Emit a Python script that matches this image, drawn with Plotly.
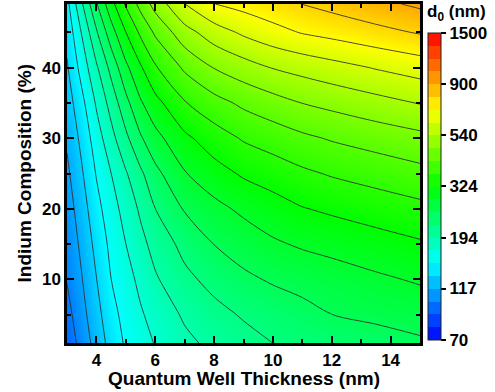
import math
import plotly.graph_objects as go

# ---------------- data ----------------
thickness_nm = [3, 3.5, 4, 4.5, 5, 5.5, 6, 7, 8, 9, 10, 11, 12, 13.5, 15]
indium_pct = [1, 5, 10, 15, 20, 25, 30, 35, 40, 45, 49]

# d0 (nm) along thickness for each indium composition row
d0_in01 = [95.1, 107.3, 123.0, 138.9, 153.4, 162.9, 172.3, 188.7, 200.8, 210.8, 221.0, 225.9, 230.8, 238.3, 246.3]
d0_in05 = [98.2, 111.7, 126.9, 144.0, 157.4, 168.6, 179.0, 198.0, 211.9, 223.8, 232.6, 241.4, 250.8, 257.6, 264.6]
d0_in10 = [103.3, 115.9, 132.2, 150.5, 163.1, 176.6, 191.4, 213.8, 230.2, 244.8, 254.6, 261.5, 268.3, 279.2, 289.3]
d0_in15 = [106.0, 120.1, 137.7, 155.6, 171.0, 187.2, 203.2, 229.9, 251.4, 265.6, 280.2, 289.7, 296.8, 308.0, 319.2]
d0_in20 = [109.4, 124.9, 144.3, 162.3, 179.5, 198.5, 220.7, 253.7, 274.9, 292.6, 306.8, 322.0, 330.8, 343.2, 356.2]
d0_in25 = [113.7, 130.7, 151.9, 171.0, 192.1, 215.7, 242.3, 282.8, 308.0, 329.5, 344.1, 359.9, 372.4, 387.5, 403.1]
d0_in30 = [118.9, 137.0, 160.8, 186.3, 214.6, 247.3, 273.9, 315.5, 346.3, 372.9, 389.9, 408.3, 423.1, 440.8, 458.6]
d0_in35 = [124.3, 145.1, 173.9, 203.9, 241.7, 281.0, 311.1, 365.0, 400.1, 429.1, 452.8, 476.4, 491.9, 517.0, 543.4]
d0_in40 = [130.8, 158.0, 190.9, 229.6, 277.0, 319.2, 363.1, 427.5, 477.7, 511.1, 543.4, 563.9, 585.9, 618.9, 649.7]
d0_in45 = [137.7, 172.5, 217.7, 270.0, 323.7, 377.2, 426.9, 514.4, 577.7, 627.6, 667.3, 703.1, 725.9, 763.0, 800.8]
d0_in49 = [144.9, 191.1, 248.2, 310.3, 373.9, 435.7, 498.2, 612.6, 696.0, 726.8, 760.1, 793.7, 823.7, 871.3, 921.6]

cbar_tick_values = [70, 117, 194, 324, 540, 900, 1500]
d0_min, d0_max = 70, 1500
n_levels = 24

# ---------------- build figure ----------------
z_rows = [d0_in01, d0_in05, d0_in10, d0_in15, d0_in20, d0_in25,
          d0_in30, d0_in35, d0_in40, d0_in45, d0_in49]
z_log = [[math.log10(v) for v in row] for row in z_rows]

lo, hi = math.log10(d0_min), math.log10(d0_max)
step = (hi - lo) / n_levels

stops = [(0.0, (0, 0, 255)), (0.25, (0, 255, 255)), (0.5, (0, 255, 0)),
         (0.75, (255, 255, 0)), (1.0, (255, 0, 0))]


def col(t):
    for (p0, c0), (p1, c1) in zip(stops[:-1], stops[1:]):
        if t <= p1:
            f = (t - p0) / (p1 - p0)
            return 'rgb(%d,%d,%d)' % tuple(round(a + (b - a) * f) for a, b in zip(c0, c1))
    return 'rgb(255,0,0)'


smooth_scale = [[p, 'rgb(%d,%d,%d)' % c] for p, c in stops]
stepped_scale = []
for i in range(n_levels):
    c = col((i + 0.5) / n_levels)
    stepped_scale.append([i / n_levels, c])
    stepped_scale.append([(i + 1) / n_levels, c])

FONT = 'Liberation Sans, Arial, sans-serif'
tick_font = dict(family=FONT, size=17, color='black', weight='bold')
title_font = dict(family=FONT, size=19, color='black', weight='bold')

fig = go.Figure()
fig.add_trace(go.Contour(
    x=thickness_nm, y=indium_pct, z=z_log,
    zmin=lo, zmax=hi, colorscale=smooth_scale, showscale=False,
    contours=dict(start=lo, end=hi, size=step, coloring='heatmap', showlines=True),
    line=dict(color='rgba(45,45,45,0.95)', width=0.9, smoothing=0.9),
    hoverinfo='skip',
))

fig.add_trace(go.Scatter(
    x=[None], y=[None], mode='markers', showlegend=False, hoverinfo='skip',
    marker=dict(
        color=[lo], cmin=lo, cmax=hi, colorscale=stepped_scale, showscale=True,
        colorbar=dict(
            thickness=13, thicknessmode='pixels',
            len=307, lenmode='pixels',
            x=1.0227, xanchor='left', xpad=0,
            y=0.9145, yanchor='top', ypad=0,
            outlinewidth=1, outlinecolor='#222',
            tickmode='array',
            tickvals=[math.log10(v) for v in cbar_tick_values],
            ticktext=[str(v) for v in cbar_tick_values],
            ticks='outside', ticklen=5, tickwidth=1.5, tickcolor='black',
            tickfont=tick_font,
        ),
    ),
))

axis_common = dict(
    showgrid=False, zeroline=False,
    showline=True, linewidth=2.5, linecolor='black', mirror='allticks',
    ticks='inside', ticklen=7, tickwidth=2, tickcolor='black',
    tickfont=tick_font,
)

fig.update_layout(
    width=495, height=392,
    margin=dict(l=67, r=75, t=4, b=49, autoexpand=False),
    paper_bgcolor='white', plot_bgcolor='white',
    xaxis=dict(range=[3, 15], tickmode='linear', tick0=0, dtick=2,
               minor=dict(dtick=1, tick0=0, ticks='inside', ticklen=4, tickwidth=2,
                          tickcolor='black', showgrid=False),
               **axis_common),
    yaxis=dict(range=[1, 49], tickmode='linear', tick0=0, dtick=10,
               minor=dict(dtick=5, tick0=0, ticks='inside', ticklen=4, tickwidth=2,
                          tickcolor='black', showgrid=False),
               **axis_common),
    showlegend=False,
    annotations=[
        dict(text='Quantum Well Thickness (nm)', xref='paper', yref='paper',
             x=0.5, y=-0.106, xanchor='center', yanchor='middle',
             showarrow=False, font=title_font),
        dict(text='Indium Composition (%)', xref='paper', yref='paper',
             x=-0.119, y=0.5, xanchor='center', yanchor='middle', textangle=-90,
             showarrow=False, font=title_font),
        dict(text='d<sub>0</sub> (nm)', xref='paper', yref='paper',
             x=1.0142, y=0.9735, xanchor='left', yanchor='middle',
             showarrow=False, font=tick_font),
    ],
)

fig.write_html('out.html',
               config={'displayModeBar': False},
               post_script="document.body.style.margin='0';document.body.style.padding='0';")
